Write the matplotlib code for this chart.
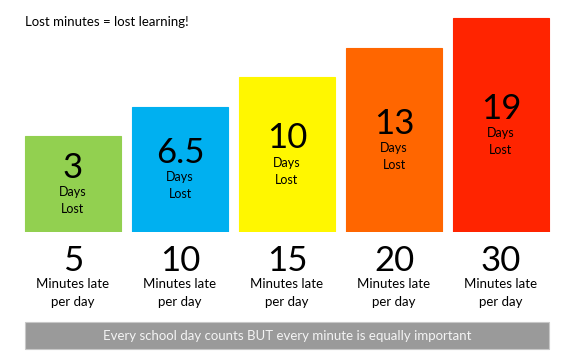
import matplotlib.pyplot as plt
from matplotlib.patches import Rectangle

# data
days_lost = ["3", "6.5", "10", "13", "19"]
minutes_late = ["5", "10", "15", "20", "30"]
bar_heights = [3.25, 4.25, 5.25, 6.25, 7.25]  # drawn height of each block (steps)
colors = ["#92D050", "#00B0F0", "#FFF700", "#FF6600", "#FF2400"]
title = "Lost minutes = lost learning!"
banner = "Every school day counts BUT every minute is equally important"

plt.rcParams['font.family'] = ['Lato', 'DejaVu Sans']

fig = plt.figure(figsize=(5.63, 3.57), dpi=100)
ax = fig.add_axes([19.5 / 563, 125 / 357, 535 / 563, 232 / 357])
x = range(len(bar_heights))
ax.bar(x, bar_heights, width=0.897, color=colors, edgecolor=colors, linewidth=0.8)
ax.set_xlim(-0.5, 4.5)
ax.set_ylim(0, 232 / 29.5)
ax.axis('off')

for i, h in enumerate(bar_heights):
    mid = h / 2
    ax.text(i, mid + 0.55, days_lost[i], ha='center', va='center', fontsize=25)
    ax.text(i, mid - 0.27, "Days", ha='center', va='center', fontsize=9)
    ax.text(i, mid - 0.85, "Lost", ha='center', va='center', fontsize=9)
    ax.text(i, -0.97, minutes_late[i], ha='center', va='center', fontsize=25, clip_on=False)
    ax.text(i, -1.76, "Minutes late", ha='center', va='center', fontsize=9.5, clip_on=False)
    ax.text(i, -2.37, "per day", ha='center', va='center', fontsize=9.5, clip_on=False)

fig.text(25 / 563, 1 - 22 / 357, title, ha='left', va='center', fontsize=9.5)

fig.patches.append(Rectangle((25 / 563, 8 / 357), 524 / 563, 27 / 357,
                             transform=fig.transFigure, facecolor='#9a9a9a',
                             edgecolor='#c8c8c8', linewidth=0.8))
fig.text(287 / 563, 1 - 336 / 357, banner, ha='center', va='center',
         fontsize=9.5, color='#f4f4f4')

fig.savefig("out.png", dpi=100)
